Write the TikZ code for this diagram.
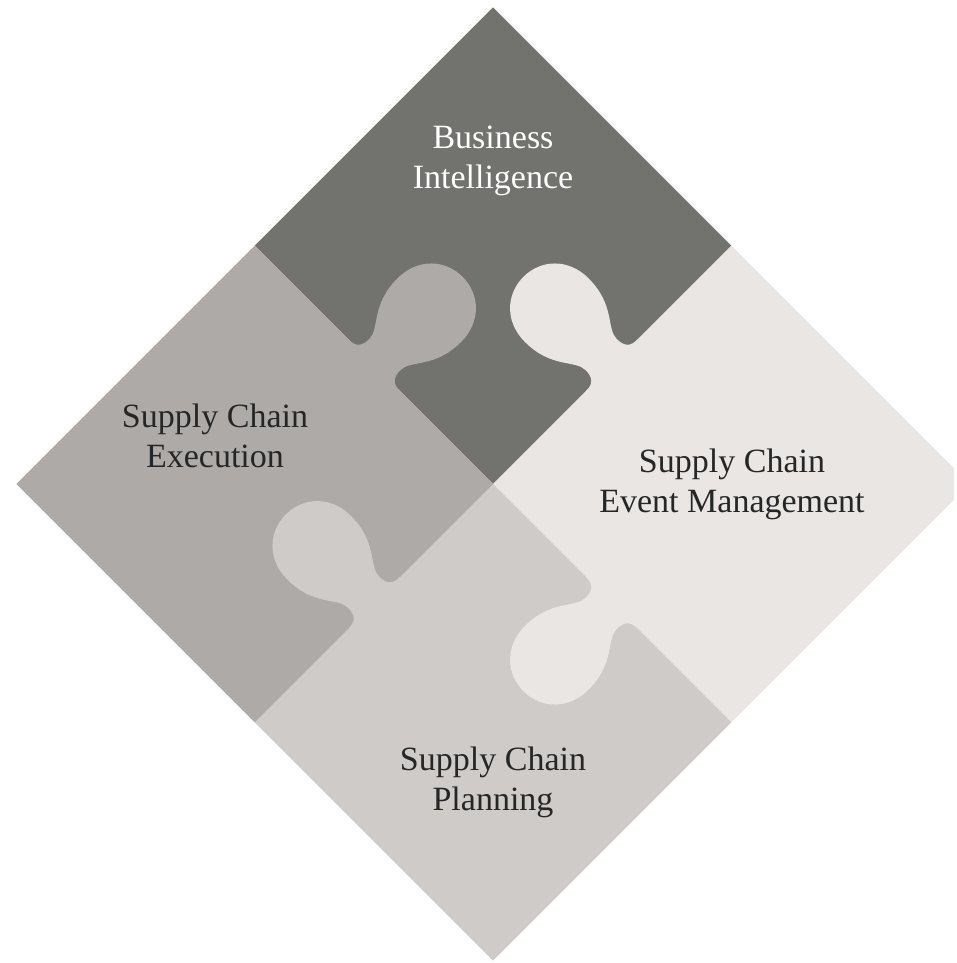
\documentclass[tikz,border=0pt]{standalone}
\usepackage{fontspec}
\setmainfont{Liberation Serif}
\usetikzlibrary{positioning}
\definecolor{bidark}{HTML}{72726E}
\definecolor{exegray}{HTML}{ADAAA7}
\definecolor{evtlight}{HTML}{E9E6E3}
\definecolor{plangray}{HTML}{CECBC8}
\definecolor{labelink}{HTML}{262626}

\begin{document}
\begin{tikzpicture}[x=1pt, y=1pt,
                    label/.style = {align=center, anchor=base, text=labelink,
                                    font=\fontsize{34}{40}\selectfont}]
\useasboundingbox (0,0) rectangle (957,-963);
\clip (0,0) rectangle (954,-963);
\begin{scope}[shift={(493,-484)}, rotate=45]
    % the four pieces
    \fill[bidark]   (0,0) rectangle (337,337);
    \fill[evtlight] (0,0) rectangle (337,-337);
    \fill[plangray] (0,0) rectangle (-337,-337);
    \fill[exegray]  (-337,0) rectangle (0,337);
    % knobs: x/y of the joint, turn, colour of the piece they come from
    \foreach \kx/\ky/\turn/\col in {0/168/-90/exegray, 168/0/0/evtlight,
                                    0/-168/90/evtlight, -168/0/0/plangray}
        \fill[\col, shift={(\kx,\ky)}, rotate=\turn]
            (-36,-3) -- (-36,0) .. controls (-26,0) and (-22,5) .. (-22,15)
            .. controls (-22,30) and (-45,40) .. (-45,78)
            .. controls (-45,106) and (-25,125) .. (0,125)
            .. controls (25,125) and (45,106) .. (45,78)
            .. controls (45,40) and (22,30) .. (22,15)
            .. controls (22,5) and (26,0) .. (36,0) -- (36,-3) -- cycle;
\end{scope}
% names give the last line, whose base line is the anchor
\node[label, text=white] (bi)   at (493,-188) {Business\\Intelligence};
\node[label]             (sce)  at (215,-467) {Supply Chain\\Execution};
\node[label]             (scem) at (732,-512) {Supply Chain\\Event Management};
\node[label]             (scp)  at (493,-810) {Supply Chain\\Planning};
\end{tikzpicture}
\end{document}
